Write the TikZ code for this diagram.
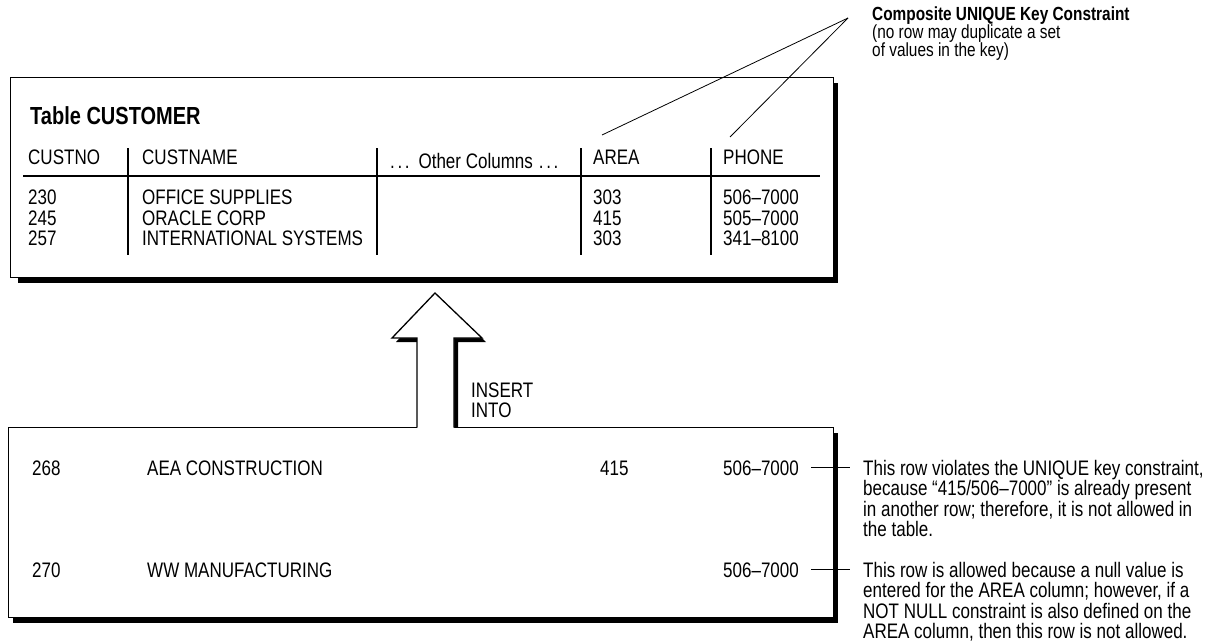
\documentclass[tikz,border=0pt]{standalone}
\usepackage{fontspec}
\setmainfont{Liberation Sans}[FakeStretch=0.81]
\begin{document}
\begin{tikzpicture}[x=1pt,y=-1pt,
  txt/.style={inner sep=0pt, anchor=base west, font=\fontsize{21}{24}\selectfont},
  note/.style={inner sep=0pt, anchor=base west, font=\fontsize{19}{22}\selectfont},
  boldnote/.style={inner sep=0pt, anchor=base west, font=\fontsize{19}{22}\selectfont\bfseries},
  ttl/.style={inner sep=0pt, anchor=base west, font=\fontsize{24.7}{28}\selectfont\bfseries},
  frame/.style={draw=black, line width=1.3pt, fill=white, anchor=north west, inner sep=0pt},
  shadowfill/.style={fill=black},
  sepline/.style={line width=1.9pt},
  ruleline/.style={line width=1.3pt},
  leader/.style={line width=0.8pt}]
\useasboundingbox (0,0) rectangle (1215,641);

% ---------- top table box ----------
\fill[shadowfill] (18,83) rectangle (838,283);
\node[frame, minimum width=823pt, minimum height=200pt] (tbl) at (10,77) {};

\node[ttl] (title) at (30,124) {Table CUSTOMER};
\node[txt] (hA) at (28,164) {CUSTNO};
\node[txt] (hB) at (142,164) {CUSTNAME};
\node[txt] (hC) at (390,168) {.\kern2.6pt.\kern2.6pt.\hspace{9pt}Other Columns\hspace{6pt}.\kern2.6pt.\kern2.6pt.};
\node[txt] (hD) at (593,164) {AREA};
\node[txt] (hE) at (723,164) {PHONE};

\draw[ruleline] (23,176) -- (820,176);
\draw[sepline] (128,148) -- (128,255);
\draw[sepline] (377,148) -- (377,255);
\draw[sepline] (581,148) -- (581,255);
\draw[sepline] (711,148) -- (711,255);

\node[txt] (a1) at (28,204.5) {230};
\node[txt] (a2) at (28,225) {245};
\node[txt] (a3) at (28,245.5) {257};
\node[txt] (b1) at (142,204.5) {OFFICE SUPPLIES};
\node[txt] (b2) at (142,225) {ORACLE CORP};
\node[txt] (b3) at (142,245.5) {INTERNATIONAL SYSTEMS};
\node[txt] (d1) at (593,204.5) {303};
\node[txt] (d2) at (593,225) {415};
\node[txt] (d3) at (593,245.5) {303};
\node[txt] (e1) at (723,204.5) {506–7000};
\node[txt] (e2) at (723,225) {505–7000};
\node[txt] (e3) at (723,245.5) {341–8100};

% ---------- composite key annotation ----------
\node[boldnote] (ck1) at (872,20) {Composite UNIQUE Key Constraint};
\node[note] (ck2) at (872,38) {(no row may duplicate a set};
\node[note] (ck3) at (872,56) {of values in the key)};
\coordinate (conv) at (848,18);
\coordinate (areaTip) at (602,135);
\coordinate (phoneTip) at (730,137);
\draw[leader] (conv) -- (areaTip);
\draw[leader] (conv) -- (phoneTip);

% ---------- insert box ----------
\fill[shadowfill] (13,433) rectangle (838,623);
\node[frame, minimum width=825pt, minimum height=190pt] (ins) at (8,427) {};

\node[txt] (r1a) at (32,475) {268};
\node[txt] (r1b) at (147,475) {AEA CONSTRUCTION};
\node[txt] (r1c) at (600,475) {415};
\node[txt] (r1d) at (723,475) {506–7000};
\node[txt] (r2a) at (32,577) {270};
\node[txt] (r2b) at (147,577) {WW MANUFACTURING};
\node[txt] (r2d) at (723,577) {506–7000};

% ---------- block arrow ----------
\fill[black] (421,427) -- (421,342) -- (396,342) -- (439,297) -- (486,342) -- (458,342) -- (458,427) -- cycle;
\fill[white] (417,428.5) -- (417,338) -- (392,338) -- (435,293) -- (482,338) -- (454,338) -- (454,428.5) -- cycle;
\draw[line width=1.3pt, line join=miter] (417,427.6) -- (417,338) -- (392,338) -- (435,293) -- (482,338) -- (454,338) -- (454,427.6);
\node[txt] (ins1) at (471,397) {INSERT};
\node[txt] (ins2) at (471,417) {INTO};

% ---------- row notes ----------
\coordinate (n1s) at (811,467);
\coordinate (n1e) at (850,467);
\coordinate (n2s) at (811,569);
\coordinate (n2e) at (850,569);
\draw[leader] (n1s) -- (n1e);
\draw[leader] (n2s) -- (n2e);

\node[txt] (p1) at (863,475) {This row violates the UNIQUE key constraint,};
\node[txt] (p2) at (863,495.5) {because “415/506–7000” is already present};
\node[txt] (p3) at (863,516) {in another row; therefore, it is not allowed in};
\node[txt] (p4) at (863,536.5) {the table.};
\node[txt] (q1) at (863,577) {This row is allowed because a null value is};
\node[txt] (q2) at (863,597.5) {entered for the AREA column; however, if a};
\node[txt] (q3) at (863,618) {NOT NULL constraint is also defined on the};
\node[txt] (q4) at (863,638.5) {AREA column, then this row is not allowed.};
\end{tikzpicture}
\end{document}
